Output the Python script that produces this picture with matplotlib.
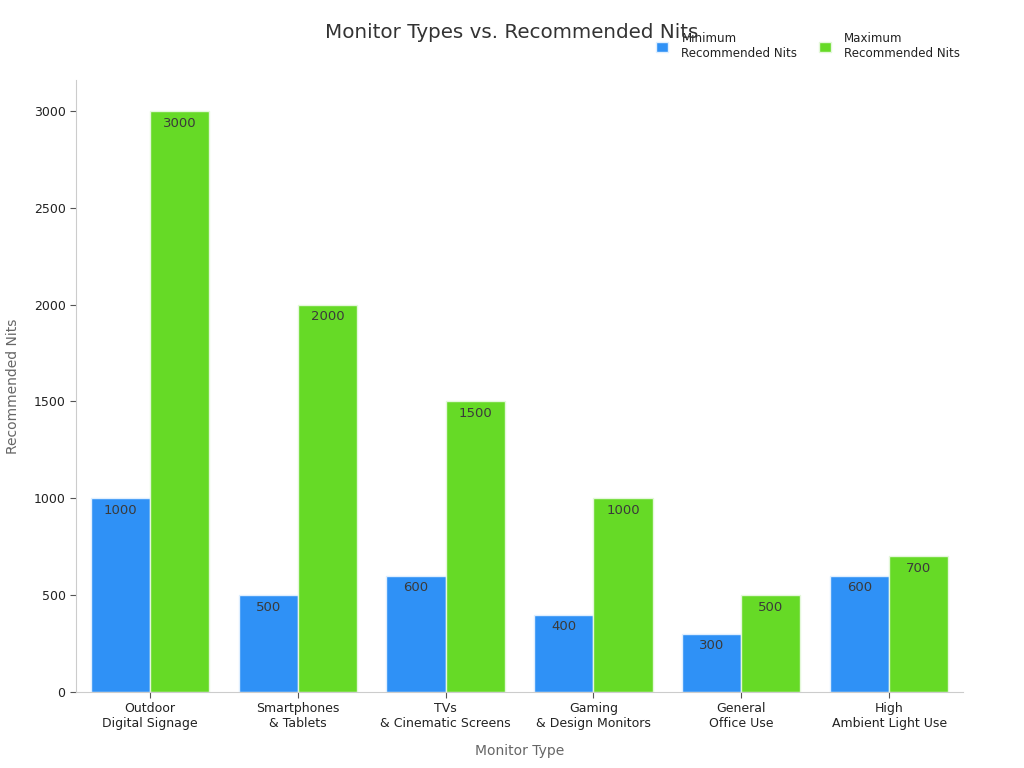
import numpy as np
import matplotlib.pyplot as plt

# Chart data
categories = ["Outdoor\nDigital Signage", "Smartphones\n& Tablets", "TVs\n& Cinematic Screens",
              "Gaming\n& Design Monitors", "General\nOffice Use", "High\nAmbient Light Use"]
min_nits = [1000, 500, 600, 400, 300, 600]
max_nits = [3000, 2000, 1500, 1000, 500, 700]
yticks = [0, 500, 1000, 1500, 2000, 2500, 3000]

BLUE = "#2f91f6"
GREEN = "#66da26"

fig = plt.figure(figsize=(10.24, 7.68), dpi=100)
ax = fig.add_axes([76 / 1024, 1 - 692 / 768, (963 - 76) / 1024, (692 - 80) / 768])

x = np.arange(len(categories))
w = 0.4
b1 = ax.bar(x - w / 2, min_nits, w, color=BLUE, edgecolor="#dfefff", linewidth=1,
            label="Minimum\nRecommended Nits")
b2 = ax.bar(x + w / 2, max_nits, w, color=GREEN, edgecolor="#e4f8da", linewidth=1,
            label="Maximum\nRecommended Nits")

for bars in (b1, b2):
    for rect in bars:
        ax.annotate(str(int(rect.get_height())),
                    (rect.get_x() + rect.get_width() / 2, rect.get_height()),
                    xytext=(0, -4), textcoords="offset points",
                    ha="center", va="top", fontsize=9.5, color="#3a3a3a")

ax.set_xlim(-0.5, 5.5)
ax.set_ylim(0, 3160)
ax.set_xticks(x)
ax.set_xticklabels(categories, fontsize=9, color="#222222")
ax.set_yticks(yticks)
ax.set_yticklabels([str(v) for v in yticks], fontsize=9, color="#222222")
ax.tick_params(colors="#555555", labelcolor="#222222", length=4)

for side in ("top", "right"):
    ax.spines[side].set_visible(False)
for side in ("left", "bottom"):
    ax.spines[side].set_color("#cccccc")

ax.set_xlabel("Monitor Type", fontsize=10, color="#666666", labelpad=10)
ax.set_ylabel("Recommended Nits", fontsize=10, color="#666666", labelpad=10)

fig.text(0.5, 1 - 33 / 768, "Monitor Types vs. Recommended Nits", ha="center", va="center",
         fontsize=14.3, color="#333333")

ax.legend(loc="upper right", bbox_to_anchor=(960 / 1024, 1 - 32 / 768),
          bbox_transform=fig.transFigure, borderaxespad=0, borderpad=0,
          ncol=2, frameon=False, fontsize=8.6, handlelength=1.0, handleheight=1.0,
          columnspacing=1.8, handletextpad=1.1, labelcolor="#222222")

fig.savefig("out.png", dpi=100)
